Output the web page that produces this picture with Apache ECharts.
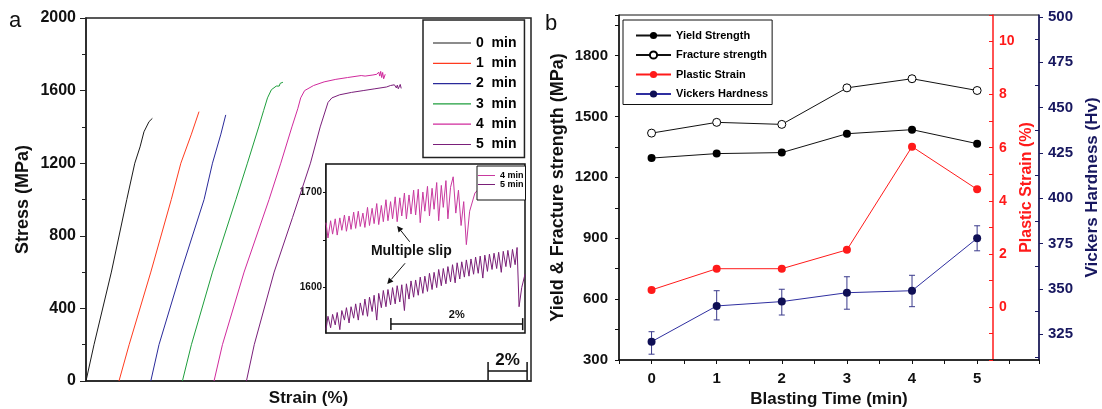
<!DOCTYPE html>
<html><head><meta charset="utf-8">
<script src="https://cdn.jsdelivr.net/npm/echarts@6/dist/echarts.min.js"></script>
<style>html,body{margin:0;padding:0;background:#fff}#c{width:1102px;height:409px}</style>
</head><body><div id="c"></div>
<script>
// ---------- Panel a: stress-strain curves (strain %, stress MPa) ----------
const curveNames = ['0  min', '1  min', '2  min', '3  min', '4  min', '5  min'];
const strain0 = [0, 0.41, 1.30, 2.09, 2.50, 2.77, 2.97, 3.23, 3.40];
const stress0 = [0, 200, 600, 1000, 1200, 1290, 1373, 1429, 1447];
const strain1 = [1.69, 2.21, 3.32, 4.37, 4.86, 5.40, 5.79];
const stress1 = [0, 200, 600, 1000, 1200, 1360, 1484];
const strain2 = [3.32, 3.74, 4.86, 6.05, 6.48, 6.91, 7.16];
const stress2 = [0, 200, 600, 1000, 1200, 1360, 1466];
const strain3 = [4.94, 5.40, 6.48, 7.68, 8.27, 8.85, 9.10, 9.30, 9.50, 9.75, 9.85, 9.90, 9.95, 10.00, 10.09];
const stress3 = [0, 200, 600, 1000, 1200, 1400, 1490, 1560, 1605, 1625, 1632, 1625, 1640, 1633, 1646];
const strain4 = [6.56, 6.99, 8.10, 9.38, 9.98, 10.55, 10.85, 11.0, 11.2, 11.66, 12.2, 12.8, 13.4, 14.1, 14.3, 14.4, 14.5, 14.6, 14.7, 14.8, 14.9, 15.0, 15.05, 15.1, 15.15, 15.2, 15.25, 15.33];
const stress4 = [0, 200, 600, 1000, 1200, 1400, 1500, 1560, 1600, 1628, 1648, 1662, 1672, 1683, 1680, 1688, 1683, 1693, 1686, 1697, 1690, 1702, 1680, 1706, 1672, 1700, 1665, 1690];
const strain5 = [8.22, 8.62, 9.64, 10.58, 11.50, 12.0, 12.4, 12.6, 13.0, 13.6, 14.2, 14.8, 15.4, 15.5, 15.6, 15.7, 15.8, 15.9, 15.95, 16.0, 16.1, 16.15];
const stress5 = [0, 200, 600, 900, 1200, 1400, 1535, 1560, 1577, 1590, 1600, 1610, 1620, 1618, 1628, 1620, 1632, 1615, 1630, 1610, 1634, 1612];

// ---------- Inset: serrated flow (relative strain %, stress MPa) ----------
const insetNames = ['4 min', '5 min'];
const inset4Strain = [0.00,0.03,0.07,0.10,0.14,0.17,0.21,0.24,0.28,0.31,0.35,0.38,0.42,0.45,0.49,0.52,0.56,0.59,0.63,0.66,0.70,0.73,0.77,0.80,0.84,0.87,0.91,0.94,0.98,1.01,1.05,1.08,1.12,1.15,1.19,1.22,1.26,1.29,1.33,1.36,1.40,1.43,1.47,1.50,1.54,1.57,1.61,1.64,1.68,1.71,1.75,1.78,1.82,1.85,1.89,1.93,1.97,2.01,2.05,2.09,2.13,2.18,2.26,2.30];
const inset4Stress = [1668,1652,1670,1656,1672,1655,1673,1660,1676,1659,1675,1661,1679,1662,1680,1664,1678,1663,1684,1665,1683,1667,1688,1666,1686,1669,1692,1670,1690,1672,1695,1669,1694,1675,1699,1672,1697,1677,1702,1676,1703,1668,1700,1680,1706,1675,1704,1682,1710,1670,1707,1684,1712,1672,1705,1716,1678,1702,1665,1690,1645,1680,1699,1702];
const inset5Strain = [0.00,0.03,0.07,0.10,0.14,0.17,0.21,0.24,0.28,0.31,0.35,0.38,0.42,0.45,0.49,0.52,0.56,0.59,0.63,0.66,0.70,0.73,0.77,0.80,0.84,0.87,0.91,0.94,0.98,1.01,1.05,1.08,1.12,1.15,1.19,1.22,1.26,1.29,1.33,1.36,1.40,1.43,1.47,1.50,1.54,1.57,1.61,1.64,1.68,1.71,1.75,1.78,1.82,1.85,1.89,1.92,1.96,1.99,2.03,2.06,2.10,2.13,2.17,2.20,2.24,2.27,2.31,2.34,2.38,2.41,2.45,2.48,2.52,2.55,2.59,2.62,2.66,2.69,2.73,2.76,2.80,2.83,2.87,2.90,2.93,2.97,3.02];
const inset5Stress = [1556,1570,1558,1572,1561,1574,1556,1576,1566,1579,1563,1580,1568,1583,1566,1584,1571,1588,1570,1590,1575,1592,1566,1594,1579,1597,1580,1598,1582,1600,1583,1602,1585,1603,1576,1604,1588,1607,1590,1608,1592,1611,1594,1612,1596,1615,1598,1616,1600,1619,1602,1620,1604,1622,1606,1624,1605,1626,1609,1627,1611,1629,1612,1630,1614,1632,1615,1633,1610,1634,1617,1635,1619,1636,1620,1637,1616,1638,1622,1639,1621,1640,1624,1642,1580,1600,1614];

// ---------- Panel b ----------
const blastTimes = [0, 1, 2, 3, 4, 5];
const bNames = ['Yield Strength', 'Fracture strength', 'Plastic Strain', 'Vickers Hardness'];
const yieldStrength = [1295, 1317, 1322, 1415, 1435, 1366];
const fractureStrength = [1418, 1471, 1461, 1641, 1686, 1628];
const plasticStrain = [0.64, 1.44, 1.44, 2.15, 6.04, 4.43];
const hardness = [320.9, 340.6, 343.0, 347.9, 349.0, 377.9];
const hardnessLow = [314.0, 332.9, 335.6, 338.8, 340.2, 371.0];
const hardnessHigh = [326.4, 349.0, 349.8, 356.7, 357.5, 384.8];
const hvMajorTicks = [325, 350, 375, 400, 425, 450, 475, 500];
const hvMinorTicks = [312.5, 337.5, 362.5, 387.5, 412.5, 437.5, 462.5, 487.5];
const insetTicks = [1600, 1650, 1700];
const insetLabels = [1600, 1700];

// ---------- styles ----------
const FONT = 'Arial, "Liberation Sans", Helvetica, sans-serif';
const curveColors = ['#1a1a1a', '#ff3b1f', '#2a2a9a', '#1e9e3c', '#d02a9c', '#7a1f7a'];
const insetColors = ['#c8399f', '#7a1f78'];
const RED = '#ff1a1a', NAVY = '#17175f';

const mainStrain = [strain0, strain1, strain2, strain3, strain4, strain5];
const mainStress = [stress0, stress1, stress2, stress3, stress4, stress5];
const pairs = (xs, ys) => xs.map((x, i) => [x, ys[i]]);
const plain = v => String(v);

const chart = echarts.init(document.getElementById('c'), null, {renderer: 'canvas'});
const bold = (size, color) => ({fontSize: size, fontWeight: 'bold', color: color || '#111', fontFamily: FONT});

const series = [];
curveNames.forEach((n, i) => series.push({
  name: n, type: 'line', xAxisIndex: 0, yAxisIndex: 0, data: pairs(mainStrain[i], mainStress[i]),
  symbol: 'none', showSymbol: false, smooth: false,
  lineStyle: {color: curveColors[i], width: 1}, itemStyle: {color: curveColors[i]}, silent: true
}));
[[inset4Strain, inset4Stress], [inset5Strain, inset5Stress]].forEach((d, i) => series.push({
  name: insetNames[i], type: 'line', xAxisIndex: 2, yAxisIndex: 5, data: pairs(d[0], d[1]),
  symbol: 'none', lineStyle: {color: insetColors[i], width: 1}, itemStyle: {color: insetColors[i]}, silent: true
}));
series.push({
  name: bNames[0], type: 'line', xAxisIndex: 1, yAxisIndex: 1, data: pairs(blastTimes, yieldStrength),
  symbol: 'circle', symbolSize: 8, lineStyle: {color: '#111', width: 1}, itemStyle: {color: '#000'}, silent: true
});
series.push({
  name: bNames[1], type: 'line', xAxisIndex: 1, yAxisIndex: 1, data: pairs(blastTimes, fractureStrength),
  symbol: 'circle', symbolSize: 8, lineStyle: {color: '#111', width: 1},
  itemStyle: {color: '#fff', borderColor: '#000', borderWidth: 1}, silent: true
});
series.push({
  name: bNames[2], type: 'line', xAxisIndex: 1, yAxisIndex: 2, data: pairs(blastTimes, plasticStrain),
  symbol: 'circle', symbolSize: 8, lineStyle: {color: RED, width: 1}, itemStyle: {color: RED}, silent: true
});
series.push({
  name: 'hvErr', type: 'custom', xAxisIndex: 1, yAxisIndex: 3, z: 1, silent: true,
  data: blastTimes.map((t, i) => [t, hardnessLow[i], hardnessHigh[i]]),
  encode: {x: 0, y: [1, 2]},
  renderItem: function (params, api) {
    const x = api.value(0);
    const lo = api.coord([x, api.value(1)]);
    const hi = api.coord([x, api.value(2)]);
    const w = 3, st = {stroke: '#3a3a8c', lineWidth: 1};
    return {type: 'group', children: [
      {type: 'line', shape: {x1: lo[0], y1: lo[1], x2: hi[0], y2: hi[1]}, style: st},
      {type: 'line', shape: {x1: lo[0] - w, y1: lo[1], x2: lo[0] + w, y2: lo[1]}, style: st},
      {type: 'line', shape: {x1: hi[0] - w, y1: hi[1], x2: hi[0] + w, y2: hi[1]}, style: st}
    ]};
  }
});
series.push({
  name: bNames[3], type: 'line', xAxisIndex: 1, yAxisIndex: 3, data: pairs(blastTimes, hardness),
  symbol: 'circle', symbolSize: 8, lineStyle: {color: '#2f2fa0', width: 1}, itemStyle: {color: '#0f0f55'}, silent: true
});

const option = {
  animation: false,
  backgroundColor: '#fff',
  textStyle: {fontFamily: FONT},
  grid: [
    {left: 86, top: 18, width: 445, height: 363, show: true, borderColor: '#222', borderWidth: 1.5, outerBoundsMode: 'none', containLabel: false},
    {left: 619, top: 15, width: 420, height: 345, show: true, borderColor: '#111', borderWidth: 1, outerBoundsMode: 'none', containLabel: false},
    {left: 326, top: 164, width: 199, height: 169, show: true, borderColor: '#111', borderWidth: 1.5, backgroundColor: '#fff', z: 3, outerBoundsMode: 'none', containLabel: false}
  ],
  xAxis: [
    {gridIndex: 0, type: 'value', min: 0, max: 22.8,
      axisLine: {onZero: false, lineStyle: {color: '#222', width: 1.5}}, axisTick: {show: false}, axisLabel: {show: false},
      splitLine: {show: false}, name: 'Strain (%)', nameLocation: 'middle', nameGap: 9, nameTextStyle: bold(17)},
    {gridIndex: 1, type: 'value', min: -0.5, max: 5.95, interval: 0.5,
      axisLine: {onZero: false, lineStyle: {color: '#111', width: 1.5}},
      axisTick: {length: 4, lineStyle: {color: '#111', width: 1}},
      axisLabel: Object.assign(bold(15), {margin: 11, formatter: v => (v >= 0 && v <= 5 && Math.abs(v - Math.round(v)) < 1e-6) ? String(Math.round(v)) : ''}),
      splitLine: {show: false}, name: 'Blasting Time (min)', nameLocation: 'middle', nameGap: 29, nameTextStyle: bold(17)},
    {gridIndex: 2, type: 'value', min: 0, max: 3.02, show: false, splitLine: {show: false}}
  ],
  yAxis: [
    {gridIndex: 0, type: 'value', min: 0, max: 2000, interval: 400,
      axisLine: {show: true, onZero: false, lineStyle: {color: '#222', width: 1.5}},
      axisTick: {length: 6, lineStyle: {color: '#222', width: 1}},
      minorTick: {show: true, splitNumber: 2, length: 4, lineStyle: {color: '#222', width: 1}},
      axisLabel: Object.assign(bold(16), {margin: 10, formatter: plain}), splitLine: {show: false},
      name: 'Stress (MPa)', nameLocation: 'middle', nameRotate: 90, nameGap: 54, nameTextStyle: bold(18)},
    {gridIndex: 1, type: 'value', min: 300, max: 2000, interval: 150,
      axisLine: {show: true, onZero: false, lineStyle: {color: '#111', width: 1.5}},
      axisTick: {length: 4, lineStyle: {color: '#111', width: 1}},
      axisLabel: Object.assign(bold(15), {margin: 11, formatter: v => (v % 300 === 0 && v <= 1800) ? String(v) : ''}),
      splitLine: {show: false},
      name: 'Yield & Fracture strength (MPa)', nameLocation: 'middle', nameRotate: 90, nameGap: 52, nameTextStyle: bold(18)},
    {gridIndex: 1, type: 'value', position: 'right', offset: -46, min: -2, max: 11, interval: 1,
      axisLine: {show: true, onZero: false, lineStyle: {color: RED, width: 1.5}},
      axisTick: {inside: true, length: 4, lineStyle: {color: RED, width: 1}},
      axisLabel: Object.assign(bold(14, RED), {margin: 6, formatter: v => (v >= 0 && v <= 10 && v % 2 === 0) ? String(v) : ''}),
      splitLine: {show: false},
      name: 'Plastic Strain (%)', nameLocation: 'middle', nameRotate: 90, nameGap: 15, nameTextStyle: bold(16, RED)},
    {gridIndex: 1, type: 'value', position: 'right', min: 310.8, max: 501,
      axisLine: {show: true, onZero: false, lineStyle: {color: NAVY, width: 1.5}},
      axisTick: {length: 4, customValues: hvMajorTicks, lineStyle: {color: NAVY, width: 1}},
      axisLabel: Object.assign(bold(15, NAVY), {margin: 9, customValues: hvMajorTicks, formatter: plain}),
      splitLine: {show: false},
      name: 'Vickers Hardness (Hv)', nameLocation: 'middle', nameRotate: 90, nameGap: 45, nameTextStyle: bold(17, NAVY)},
    {gridIndex: 1, type: 'value', position: 'right', min: 310.8, max: 501,
      axisLine: {show: false, onZero: false},
      axisTick: {inside: true, length: 4, customValues: hvMinorTicks, lineStyle: {color: NAVY, width: 1}},
      axisLabel: {show: false}, splitLine: {show: false}},
    {gridIndex: 2, type: 'value', min: 1552.5, max: 1729.4,
      axisLine: {show: true, onZero: false, lineStyle: {color: '#111', width: 1.5}},
      axisTick: {length: 3, customValues: insetTicks, lineStyle: {color: '#111', width: 1}},
      axisLabel: Object.assign(bold(10), {margin: 4, customValues: insetLabels, formatter: plain}),
      splitLine: {show: false}}
  ],
  legend: [
    {data: curveNames, orient: 'vertical', left: 423, top: 20, itemWidth: 38, itemHeight: 14, itemGap: 6.3,
      icon: 'path://M0,0H38V1.2H0Z',
      padding: [16, 8, 6, 10], borderColor: '#222', borderWidth: 1.5, selectedMode: false,
      textStyle: bold(14, '#000')},
    {data: bNames, orient: 'vertical', left: 623, top: 20, itemWidth: 35, itemHeight: 9, itemGap: 8.5,
      padding: [10, 4, 5, 12], borderColor: '#111', borderWidth: 1, selectedMode: false,
      textStyle: bold(11, '#000')},
    {data: insetNames, orient: 'vertical', left: 477, top: 166, itemWidth: 17, itemHeight: 8, itemGap: 0,
      icon: 'path://M0,0H17V1H0Z',
      padding: [5, 2, 11, 1], borderColor: '#111', borderWidth: 1, backgroundColor: '#fff', selectedMode: false, z: 6,
      textStyle: bold(9, '#000')}
  ],
  series: series
};
chart.setOption(option);

// ---------- annotations placed through the axes ----------
const pA = (x, y) => chart.convertToPixel({xAxisIndex: 0, yAxisIndex: 0}, [x, y]);
const pI = (x, y) => chart.convertToPixel({xAxisIndex: 2, yAxisIndex: 5}, [x, y]);
const g = [];
function scaleBar(p1, p2, cap, fs, gap) {
  const st = {stroke: '#111', lineWidth: 1.5};
  g.push({type: 'line', z: 10, shape: {x1: p1[0], y1: p1[1], x2: p2[0], y2: p2[1]}, style: st});
  g.push({type: 'line', z: 10, shape: {x1: p1[0], y1: p1[1] - cap, x2: p1[0], y2: p1[1] + cap}, style: st});
  g.push({type: 'line', z: 10, shape: {x1: p2[0], y1: p2[1] - cap, x2: p2[0], y2: p2[1] + cap}, style: st});
  g.push({type: 'text', z: 10, x: (p1[0] + p2[0]) / 2, y: p1[1] - gap,
    style: {text: '2%', font: 'bold ' + fs + 'px ' + FONT, fill: '#111', align: 'center', verticalAlign: 'middle'}});
}
scaleBar(pA(20.6, 55), pA(22.6, 55), 9, 17, 11);
scaleBar(pI(0.985, 1561.8), pI(2.985, 1561.8), 6, 11, 9);
function arrow(tail, tip) {
  const dx = tip[0] - tail[0], dy = tip[1] - tail[1], L = Math.hypot(dx, dy);
  const ux = dx / L, uy = dy / L, hl = 6, hw = 3;
  const bx = tip[0] - ux * hl, by = tip[1] - uy * hl;
  g.push({type: 'line', z: 10, shape: {x1: tail[0], y1: tail[1], x2: bx, y2: by}, style: {stroke: '#111', lineWidth: 1}});
  g.push({type: 'polygon', z: 10, shape: {points: [tip, [bx - uy * hw, by + ux * hw], [bx + uy * hw, by - ux * hw]]}, style: {fill: '#111'}});
}
arrow(pI(1.27, 1648), pI(1.08, 1664.6));
arrow(pI(1.20, 1625.5), pI(0.93, 1603.8));
const tp = pI(1.295, 1638.6);
g.push({type: 'text', z: 10, x: tp[0], y: tp[1],
  style: {text: 'Multiple slip', font: 'bold 14px ' + FONT, fill: '#111', align: 'center', verticalAlign: 'middle'}});
g.push({type: 'text', left: 9, top: 10, style: {text: 'a', font: '22px ' + FONT, fill: '#111'}});
g.push({type: 'text', left: 545, top: 13, style: {text: 'b', font: '22px ' + FONT, fill: '#111'}});
chart.setOption({graphic: g});
</script>
</body></html>
